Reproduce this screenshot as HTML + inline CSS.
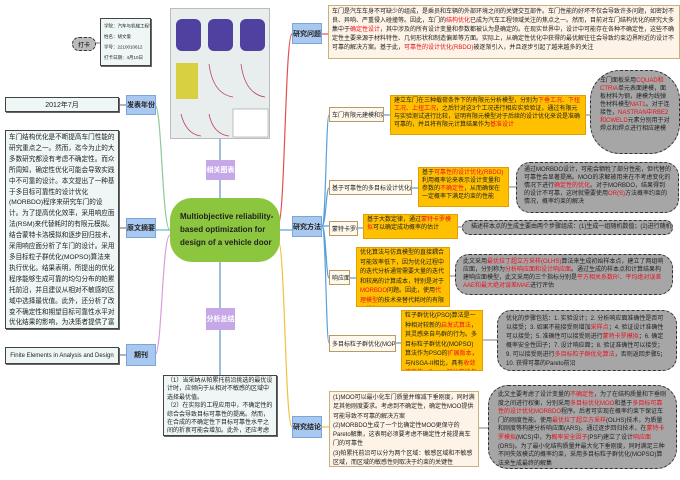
<!DOCTYPE html>
<html><head><meta charset="utf-8"><style>
body{margin:0;width:680px;height:480px;background:#fff;position:relative;overflow:hidden;font-family:"Liberation Sans","Noto Sans CJK SC",sans-serif;}
.a{position:absolute;box-sizing:border-box;overflow:hidden;}
.blue{background:#a9c8f0;border:1px solid #7aa6dc;font-size:7px;font-weight:bold;color:#222;display:flex;align-items:center;justify-content:center;white-space:nowrap;}
.pur{background:#c6a8e8;color:#fff;font-size:7px;font-weight:bold;display:flex;align-items:center;justify-content:center;white-space:nowrap;}
.wb{background:#eef6f6;border:1px solid #444;box-shadow:1px 1px 0 #666;font-size:6px;line-height:8.4px;color:#222;padding:1px 3px;}
.sub{background:#fff8ec;border:1px solid #b89a6a;font-size:6px;display:flex;align-items:center;padding:0 2px;color:#222;white-space:nowrap;}
.or{background:#ffc000;border:1px solid #e0a000;font-size:6px;line-height:8px;padding:1px 3px;color:#222;}
.gr{background:#a6a6a6;border:1px dashed #333;border-radius:14px;font-size:6px;line-height:8px;padding:3px 7px;color:#222;}
.r{color:#e8121e;}
</style></head><body>
<svg class="a" style="left:0;top:0" width="680" height="480">
<g fill="none" stroke-width="1.2">
<path d="M278 225 C285 225 285 34 292 34" stroke="#e05050"/>
<path d="M322 34 H328" stroke="#e05050"/>
<path d="M280 230 H292" stroke="#5aa0d8"/>
<path d="M322 226 C326 226 326 115 329 115 M322 226 C326 226 326 188 329 188 M322 226 H329 M322 226 C326 226 326 278 329 278 M322 226 C326 226 326 343 329 343" stroke="#5aa0d8"/>
<path d="M383 115 H390 M411 188 H418 M357 228 H363 M349 278 H356 M395 343 H401" stroke="#5aa0d8"/>
<path d="M585 115 H590 M508 187 H516 M457 227 H462 M449 276 H455 M482 340 H497 M478 428 H488" stroke="#999"/>
<path d="M278 240 C285 240 285 427 292 427 M322 427 H329" stroke="#f0c040"/>
<path d="M170 230 C162 230 162 105 155 105" stroke="#8fc89a"/>
<path d="M170 230 H155" stroke="#66b8d0"/>
<path d="M170 235 C162 235 162 355 155 355" stroke="#d8a0d8"/>
<path d="M119 105 H126 M119 228 H126 M119 355 H126" stroke="#888"/>
<path d="M220 138 V160 M220 180 V198 M220 262 V308 M220 330 V375" stroke="#6090c8"/>
<path d="M95 43 H100" stroke="#888"/>
</g></svg>

<div class="a" style="left:72px;top:37px;width:24px;height:14px;background:#bbb;border:1px dashed #333;border-radius:7px;font-size:6px;display:flex;align-items:center;justify-content:center;white-space:nowrap">打卡</div>
<div class="a wb" style="left:100px;top:18px;width:51px;height:48px;padding:0">
<div style="transform:scale(.75);transform-origin:0 0;width:64px;white-space:nowrap;font-size:6px;line-height:14px;padding:3px 0 0 4px">学院：汽车与机械工程学院<br>姓名：胡文俊<br>学号：2210010612<br>打卡日期：4月10日</div></div>

<div class="a wb" style="left:5px;top:97px;width:114px;height:15px;text-align:center;font-size:7px;line-height:13px">2012年7月</div>
<div class="a blue" style="left:126px;top:95px;width:30px;height:20px">发表年份</div>
<div class="a wb" style="left:5px;top:130px;width:114px;height:199px;font-size:6.6px;line-height:10.9px;padding:2px 3px">车门结构优化是不断提高车门性能的研究重点之一。然而，迄今为止的大多数研究都没有考虑不确定性。而众所周知，确定性优化可能会导致实践中不可靠的设计。本文提出了一种基于多目标可靠性的设计优化(MORBDO)程序来研究车门的设计。为了提高优化效率，采用响应面法(RSM)来代替耗时的有限元模拟。结合蒙特卡洛模拟和逐步回归技术，采用响应面分析了车门的设计。采用多目标粒子群优化(MOPSO)算法来执行优化。结果表明，所提出的优化程序能够生成可靠的均匀分布的帕累托前沿，并且建议从相对不敏感的区域中选择最优值。此外，还分析了改变不确定性和期望目标可靠性水平对优化结果的影响，为决策者提供了富有洞察力的设计信息。</div>
<div class="a blue" style="left:126px;top:218px;width:30px;height:20px">原文摘要</div>
<div class="a wb" style="left:5px;top:347px;width:114px;height:17px;text-align:center;font-size:6px;line-height:14px;white-space:nowrap">Finite Elements in Analysis and Design</div>
<div class="a blue" style="left:126px;top:344px;width:30px;height:22px">期刊</div>

<div class="a" style="left:170px;top:8px;width:100px;height:131px;background:#e8eeee;border:1px solid #bbb">
<svg width="100" height="131"><g fill="#5040a0"><rect x="5" y="10" width="25" height="32" rx="6"/><rect x="37" y="10" width="25" height="32" rx="6"/><rect x="69" y="10" width="25" height="32" rx="6"/><rect x="5" y="54" width="22" height="36" fill="#d8d040"/></g>
<g fill="none" stroke="#c04060" stroke-width=".8"><path d="M38 55 Q42 85 62 88"/><path d="M70 55 Q74 85 94 88"/><path d="M10 105 Q15 125 30 127"/><path d="M38 105 Q42 125 58 127"/></g>
<rect x="62" y="100" width="35" height="28" fill="#fff" stroke="#888" stroke-width=".5"/></svg></div>
<div class="a pur" style="left:206px;top:160px;width:29px;height:20px">相关图表</div>
<div class="a" style="left:170px;top:198px;width:110px;height:64px;background:#8cc63e;border-radius:22px;color:#222;font-size:8px;font-weight:bold;line-height:13px;padding:12px 0 0 10px;white-space:nowrap">Multiobjective reliability-<br>based optimization for<br>design of a vehicle door</div>
<div class="a pur" style="left:206px;top:308px;width:29px;height:22px">分析总结</div>
<div class="a wb" style="left:163px;top:375px;width:114px;height:61px;font-size:6px;line-height:8.4px">（1）当采纳从帕累托前沿挑选的最优设计时，应倾向于从相对不敏感的区域中选择最优值。<br>（2）在实际的工程应用中，不确定性的综合会导致目标可靠性的提高。然而，在合成的不确定性下目标可靠性水平之间的折衷可能会增加。此外，还应考虑目标与可靠性之间的权衡。</div>

<div class="a blue" style="left:292px;top:23px;width:30px;height:21px">研究问题</div>
<div class="a" style="left:328px;top:5px;width:352px;height:54px;background:#fdf3e6;border:1px solid #c8b080;font-size:6px;line-height:9px;padding:2px 3px;color:#222">车门是汽车车身不可缺少的组成，是乘员和车辆的外部环境之间的关键交互部件。车门性能的好坏不仅会导致许多问题，如密封不良、异响、严重侵入碰撞等。因此，车门的<span class="r">结构优化</span>已成为汽车工程领域关注的焦点之一。然而，目前对车门结构优化的研究大多集中于<span class="r">确定性设计</span>，其中涉及的所有设计变量和参数都被认为是确定的。在现实世界中，设计中可能存在各种不确定性，这些不确定性主要来源于材料特性、几何形状和制造偏差等方面。实际上，从确定性优化中获得的最优解往往会导致约束边界附近的设计不可靠的解决方案。基于此，<span class="r">可靠性的设计优化(RBDO)</span>被逐渐引入，并且逐步引起了越来越多的关注</div>

<div class="a blue" style="left:292px;top:216px;width:30px;height:21px">研究方法</div>
<div class="a sub" style="left:329px;top:107px;width:55px;height:15px">车门有限元建模和实验验证</div>
<div class="a or" style="left:390px;top:95px;width:196px;height:40px">建立车门在三种载荷条件下的有限元分析模型，分别为<span class="r">下垂工况、下扭工况、上扭工况</span>，之后针对这3个工况进行相应实验验证，通过有限元与实验测试进行比较，证明有限元模型对于后续的设计优化来说是准确可靠的，并且将有限元计算结果作为<span class="r">基准设计</span></div>
<div class="a gr" style="left:590px;top:70px;width:90px;height:84px;border-radius:30px;padding:6px 9px">车门面板采用<span class="r">CQUAD和CTRIA</span>单元表面建模，面板材料为钢，建模为线弹性材料模型<span class="r">MAT1</span>。对于连接性，<span class="r">NASTRAN中RBE2和CWELD</span>元素分别用于对焊点和焊点进行相应建模</div>

<div class="a sub" style="left:329px;top:180px;width:83px;height:15px">基于可靠性的多目标设计优化(MORBDO)</div>
<div class="a or" style="left:418px;top:167px;width:91px;height:40px">基于<span class="r">可靠性的设计优化(RBDO)</span>利用概率论来表示设计变量和参数的<span class="r">不确定性</span>，从而确保在一定概率下满足约束的性能</div>
<div class="a gr" style="left:516px;top:162px;width:163px;height:51px">通过MORBDO设计，可能会牺牲了部分性能，但代替的可靠性会显著提高。MOO的求解被用来在不考虑变化的情况下进行<span class="r">确定性的优化</span>。对于MORBDO，结果得到的设计不可靠，这时就需要使用<span class="r">OR(S)</span>方法概率约束的情况，概率约束的解决</div>

<div class="a sub" style="left:329px;top:221px;width:29px;height:15px">蒙特卡罗模拟</div>
<div class="a or" style="left:363px;top:214px;width:95px;height:25px">基于大数定律，通过<span class="r">蒙特卡罗模拟</span>可以确定成功概率的估计</div>
<div class="a gr" style="left:462px;top:220px;width:211px;height:15px;padding:2px 8px;text-align:center;white-space:nowrap">描述样本点的生成主要由两个步骤组成：(1)生成一组随机数值；(2)进行随机取样</div>

<div class="a sub" style="left:329px;top:270px;width:21px;height:15px">响应面法</div>
<div class="a or" style="left:356px;top:247px;width:94px;height:60px;line-height:9.5px">优化算法与仿真模型的直接耦合可能效率低下，因为优化过程中的迭代分析通常需要大量的迭代和较高的计算成本，特别是对于<span class="r">MORBDO</span>问题。因此，使用<span class="r">代理模型</span>的技术来替代耗时的有限元模拟</div>
<div class="a gr" style="left:455px;top:254px;width:218px;height:41px">此文采用<span class="r">最优拉丁超立方采样(OLHS)</span>算法来生成初始样本点，建立了两组响应面，分别称为<span class="r">分析响应面和设计响应面</span>。通过生成的样本点和计算结果构建响应面模型，此文采用的三个指标分别是<span class="r">平方相关系数R²、平均绝对误差AAE和最大绝对误差MAE</span>进行评估</div>

<div class="a sub" style="left:329px;top:335px;width:67px;height:17px">多目标粒子群优化(MOPSO)</div>
<div class="a or" style="left:401px;top:310px;width:82px;height:61px;line-height:9.5px">粒子群优化(PSO)算法是一种相对较新的<span class="r">启发式算法</span>，其灵感来自鸟群的行为。多目标粒子群优化(MOPSO)算法作为PSO的<span class="r">扩展版本</span>，与NSGA-II相比，具有<span class="r">收敛速度快、Pareto解分布均匀</span>的特点</div>
<div class="a gr" style="left:497px;top:310px;width:180px;height:61px;line-height:9px;padding:4px 8px">优化的步骤包括：1. 实验设计；2. 分析响应面准确性是否可以接受；3. 如果不能接受则增加<span class="r">采样点</span>；4. 验证设计准确性可以接受；5. 准确性可以接受则进行<span class="r">蒙特卡罗模拟</span>；6. 确定概率安全性因子；7. 设计响应面；8. 验证准确性可以接受；9. 可以接受则进行<span class="r">多目标粒子群优化算法</span>，否则返回步骤5；10. 获得可靠的Pareto前沿</div>

<div class="a blue" style="left:292px;top:416px;width:30px;height:22px">研究结论</div>
<div class="a" style="left:329px;top:391px;width:150px;height:76px;background:#fdf3e6;border:1px solid #c8b080;font-size:6px;line-height:9.3px;padding:2px 3px;color:#222">(1)MOO可以最小化车门质量并缩减下垂刚度，同时满足其他刚度要求。考虑到不确定性，确定性MOO提供可能导致不可靠的解决方案<br>(2)MORBDO生成了一个比确定性MOO更保守的Pareto解集，这表明必须要考虑不确定性才能提高车门的可靠性<br>(3)帕累托前沿可以分为两个区域：敏感区域和不敏感区域，而区域的敏感性则取决于约束的关键性</div>
<div class="a gr" style="left:488px;top:385px;width:189px;height:84px;border-radius:20px;line-height:8.6px;padding:5px 9px">此文主要考虑了设计变量的<span class="r">不确定性</span>，为了在结构质量和下垂刚度之间进行权衡，分别采用<span class="r">多目标优化MOO</span>和基于<span class="r">多目标可靠性的设计优化MORBDO</span>程序。后者可实现在概率约束下保证车门的刚度性能。使用<span class="r">最优拉丁超立方采样</span>(OLHS)技术，为质量和刚度等构建分析响应面(ARS)。通过逐步回归技术，在<span class="r">蒙特卡罗模拟</span>(MCS)中，为<span class="r">概率安全因子</span>(PSF)建立了设计<span class="r">响应面</span>(DRS)。为了最小化结构质量并最大化下垂刚度，同时满足三种不同失效模式的概率约束，采用多目标粒子群优化(MOPSO)算法来生成最终的解集</div>
</body></html>
